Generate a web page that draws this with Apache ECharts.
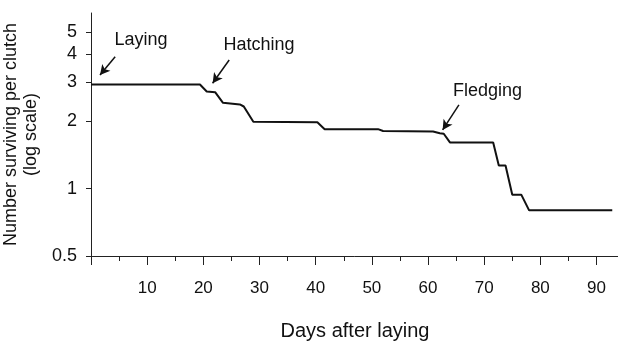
<!DOCTYPE html>
<html>
<head>
<meta charset="utf-8">
<script src="https://cdn.jsdelivr.net/npm/echarts@6/dist/echarts.min.js"></script>
<style>html,body{margin:0;padding:0;background:#fff}#c{width:618px;height:345px}</style>
</head>
<body>
<div id="c"></div>
<script>
// Survival curve (days after laying, number surviving per clutch)
var days      = [0, 19.4, 20.6, 22.1, 23.5, 26.5, 27.2, 28.9, 40.3, 41.6, 51.1, 52.0, 60.9, 62.1, 62.8, 63.9, 71.6, 72.6, 73.8, 75.0, 76.6, 78.0, 92.8];
var surviving = [2.92, 2.92, 2.72, 2.70, 2.42, 2.38, 2.33, 1.99, 1.98, 1.845, 1.845, 1.81, 1.80, 1.77, 1.76, 1.61, 1.61, 1.27, 1.27, 0.94, 0.94, 0.80, 0.80];

var xMajorTicks = [0, 10, 20, 30, 40, 50, 60, 70, 80, 90];
var xTickLabels = [10, 20, 30, 40, 50, 60, 70, 80, 90];
var xMinorTicks = [5, 15, 25, 35, 45, 55, 65, 75, 85];
var yTicks      = [0.5, 1, 2, 3, 4, 5];

// Annotations: text and arrows (in data coordinates)
var annotLabels = ['Laying', 'Hatching', 'Fledging'];
var annotTextPos = [[8.9, 4.62], [29.9, 4.39], [70.6, 2.73]];
var annotArrowFrom = [[4.3, 3.89], [24.6, 3.76], [65.5, 2.37]];
var annotArrowTo   = [[1.6, 3.22], [21.65, 2.96], [62.6, 1.83]];

var FONT = '"Liberation Sans", Arial, sans-serif';
var TXT = '#111';

var lineData = days.map(function (d, i) { return [d, surviving[i]]; });

var chart = echarts.init(document.getElementById('c'), null, {renderer: 'canvas'});
chart.setOption({
  animation: false,
  backgroundColor: '#fff',
  grid: {left: 91, right: -1, top: 13, bottom: 89, containLabel: false, outerBoundsMode: 'none'},
  xAxis: [{
    type: 'value', min: 0, max: 94,
    position: 'bottom',
    name: 'Days after laying', nameLocation: 'middle', nameGap: 65,
    nameTextStyle: {fontFamily: FONT, fontSize: 20, color: TXT},
    axisLine: {show: true, lineStyle: {color: '#222', width: 1}},
    axisTick: {show: true, length: 9, customValues: xMajorTicks, lineStyle: {color: '#222'}},
    axisLabel: {show: true, customValues: xTickLabels, margin: 24, fontFamily: FONT, fontSize: 17, color: TXT},
    splitLine: {show: false}
  }, {
    type: 'value', min: 0, max: 94,
    position: 'bottom',
    axisLine: {show: false},
    axisTick: {show: true, length: 5, customValues: xMinorTicks, lineStyle: {color: '#222'}},
    axisLabel: {show: false},
    splitLine: {show: false}
  }],
  yAxis: {
    type: 'log', logBase: 10, min: 0.5, max: 6.1,
    name: 'Number surviving per clutch\n(log scale)', nameLocation: 'middle', nameGap: 36, nameRotate: 90,
    nameTextStyle: {fontFamily: FONT, fontSize: 18, color: TXT, lineHeight: 20, align: 'center'},
    axisLine: {show: true, lineStyle: {color: '#222', width: 1}},
    axisTick: {show: true, length: 5, customValues: yTicks, lineStyle: {color: '#222'}},
    axisLabel: {show: true, customValues: yTicks, margin: 14, fontFamily: FONT, fontSize: 18, color: TXT,
      formatter: function (v) { return String(v); }},
    splitLine: {show: false}
  },
  series: [{
    type: 'line',
    data: lineData,
    showSymbol: false,
    lineStyle: {color: '#111', width: 2},
    silent: true,
    markLine: {
      silent: true,
      symbol: ['none', 'arrow'],
      symbolSize: [8, 10],
      label: {show: false},
      lineStyle: {color: '#111', width: 1.5, type: 'solid'},
      data: annotArrowFrom.map(function (p, i) {
        return [{coord: p}, {coord: annotArrowTo[i]}];
      })
    },
    markPoint: {
      silent: true,
      symbol: 'circle',
      symbolSize: 0,
      label: {show: true, position: 'inside', fontFamily: FONT, fontSize: 18, color: TXT,
        formatter: function (p) { return p.name; }},
      data: annotLabels.map(function (t, i) {
        return {name: t, coord: annotTextPos[i]};
      })
    }
  }]
});
</script>
</body>
</html>
